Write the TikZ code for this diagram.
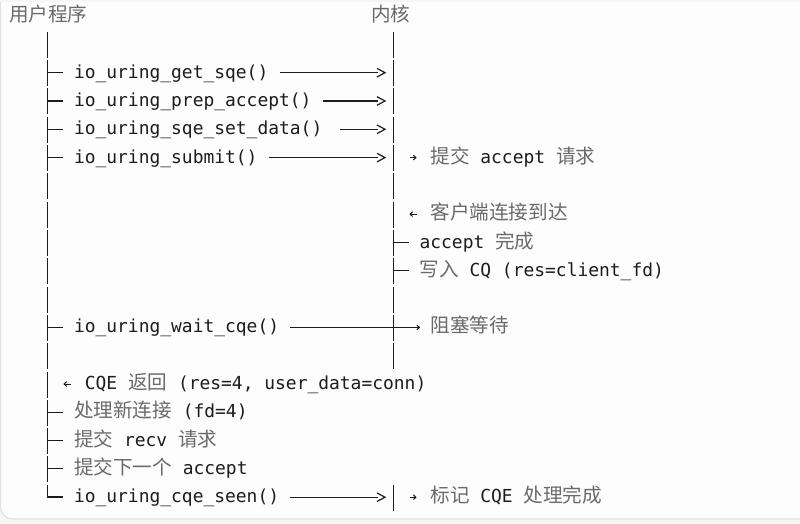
\documentclass[tikz,border=0pt]{standalone}
\usepackage{fontspec}
\usetikzlibrary{arrows.meta}
\newfontfamily\mymono{DejaVu Sans Mono}
\newfontfamily\mycjk{Noto Sans CJK SC}
\definecolor{cjkgray}{HTML}{6A6A6A}
\definecolor{ink}{HTML}{1C1C1C}
\definecolor{frame}{HTML}{E2E2E2}
\definecolor{outer}{HTML}{F6F6F6}
\definecolor{paper}{HTML}{FDFDFD}
\begin{document}
\begin{tikzpicture}[x=0.75pt,y=-0.75pt,
  mono/.style={anchor=base west,inner sep=0pt,outer sep=0pt,text=ink,font=\mymono\fontsize{13.45}{16}\selectfont},
  cjk/.style={anchor=base west,inner sep=0pt,outer sep=0pt,text=cjkgray,font=\mycjk\fontsize{14.7}{17}\selectfont},
  bar/.style={draw=ink,line width=1.15pt,line join=miter},
  rule/.style={draw=ink,line width=0.8pt},
  chev/.style={draw=ink,line width=0.9pt,line join=miter},
  smallarrow/.style={draw=ink,line width=0.75pt,-{To[length=2.6pt,width=4pt]}}]

\useasboundingbox (0,0) rectangle (800,524);
\fill[outer] (0,0) rectangle (800,524);
\begin{scope}
  \clip (0,0) rectangle (800,524);
  \filldraw[fill=paper,draw=frame,line width=0.9pt,rounded corners=9pt] (0.5,-30) rectangle (840,519);
  \fill[outer] (0,0) rectangle (800,2);
\end{scope}

% column x positions
\def\LX{47.5}
\def\RX{393.5}

% ---- lifeline segments ----
\foreach \y in {44.4,72.7,101.0,129.3,157.6,185.9,214.2,242.5,270.8,299.1,327.4,355.7,384.0,412.3,440.6,468.9}
  \draw[bar] (\LX,{\y-12.5}) -- (\LX,{\y+13.5});
\foreach \y in {44.4,72.7,101.0,129.3,157.6,185.9,214.2,242.5,270.8,299.1,327.4,355.7,497.2}
  \draw[bar] (\RX,{\y-12.5}) -- (\RX,{\y+13.5});
% last corner
\coordinate (Lend) at (\LX,497.2);
\draw[bar] (\LX,{497.2-12.5}) -- (Lend) -- (63.2,497.2);

% ---- left ticks ----
\foreach \y in {72.7,101.0,129.3,157.6,327.4,412.3,440.6,468.9}
  \draw[rule] (\LX,\y) -- (63.2,\y);
% ---- right ticks ----
\foreach \y in {242.5,270.8}
  \draw[rule] (\RX,\y) -- (408.8,\y);

% ---- calls with ---> ----
\foreach \sx/\y in {280/72.7,323/101.0,340/129.3,269/157.6,290/497.2}{
  \draw[rule] (\sx,\y) -- (377.5,\y);
  \draw[chev] (377,{\y-4.3}) -- (385,\y) -- (377,{\y+4.3});
}
% wait_cqe crossing arrow
\coordinate (W0) at (290,327.4);
\coordinate (W1) at (420,327.4);
\draw[rule,-{To[length=2.6pt,width=4pt]}] (W0) -- (W1);

% small arrows
\draw[smallarrow] (409.5,157.6) -- (416.5,157.6);
\draw[smallarrow] (416.5,214.2) -- (409.5,214.2);
\draw[smallarrow] (70.5,384.0) -- (63.5,384.0);
\draw[smallarrow] (409.5,497.2) -- (416.5,497.2);

% ---- texts ----
\node[cjk] (hU) at (9.2,21.6) {用户程序};
\node[cjk] (hK) at (371,21.6) {内核};

\node[mono] (t2) at (74,78.2) {io\_uring\_get\_sqe()};
\node[mono] (t3) at (74,106.5) {io\_uring\_prep\_accept()};
\node[mono] (t4) at (74,134.8) {io\_uring\_sqe\_set\_data()};
\node[mono] (t5) at (74,163.1) {io\_uring\_submit()};
\node[cjk]  (r5a) at (430.4,163.1) {提交};
\node[mono] (r5b) at (480.4,163.1) {accept};
\node[cjk]  (r5c) at (556,163.1) {请求};

\node[cjk]  (r7) at (430.4,219.7) {客户端连接到达};
\node[mono] (r8a) at (419.6,248.0) {accept};
\node[cjk]  (r8b) at (495.2,248.0) {完成};
\node[cjk]  (r9a) at (419.6,276.3) {写入};
\node[mono] (r9b) at (469.6,276.3) {CQ (res=client\_fd)};

\node[mono] (t11) at (74,332.9) {io\_uring\_wait\_cqe()};
\node[cjk]  (r11) at (430.4,332.9) {阻塞等待};

\node[mono] (t13a) at (84.8,389.5) {CQE};
\node[cjk]  (t13b) at (128,389.5) {返回};
\node[mono] (t13c) at (178,389.5) {(res=4, user\_data=conn)};

\node[cjk]  (t14a) at (74,417.8) {处理新连接};
\node[mono] (t14b) at (182.8,417.8) {(fd=4)};

\node[cjk]  (t15a) at (74,446.1) {提交};
\node[mono] (t15b) at (124,446.1) {recv};
\node[cjk]  (t15c) at (178,446.1) {请求};

\node[cjk]  (t16a) at (74,474.4) {提交下一个};
\node[mono] (t16b) at (182.8,474.4) {accept};

\node[mono] (t17) at (74,502.7) {io\_uring\_cqe\_seen()};
\node[cjk]  (r17a) at (430.4,502.7) {标记};
\node[mono] (r17b) at (480.4,502.7) {CQE};
\node[cjk]  (r17c) at (523.6,502.7) {处理完成};
\end{tikzpicture}
\end{document}
